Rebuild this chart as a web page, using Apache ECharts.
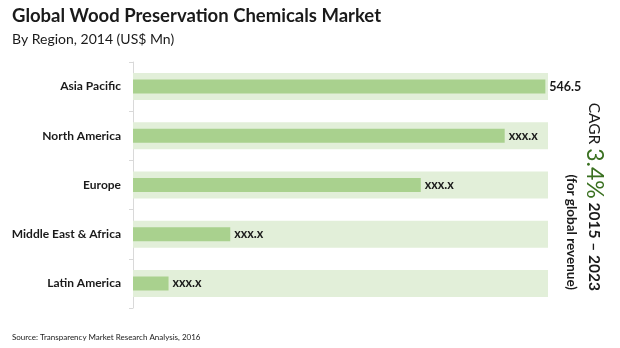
<!DOCTYPE html>
<html><head><meta charset="utf-8">
<script src="https://cdn.jsdelivr.net/npm/echarts@6/dist/echarts.min.js"></script>
<style>html,body{margin:0;padding:0;background:#fff}#c{width:620px;height:348px}</style>
</head><body><div id="c"></div>
<script>
var categories = ['Asia Pacific', 'North America', 'Europe', 'Middle East & Africa', 'Latin America'];
var values = [546.5, 492.6, 381.4, 128.9, 47.1];
var valueLabels = ['546.5', 'xxx.x', 'xxx.x', 'xxx.x', 'xxx.x'];
var bandValues = [550, 550, 550, 550, 550];
var axisMax = 550;

var FONT = 'Lato';
var chart = echarts.init(document.getElementById('c'), null, {renderer: 'canvas'});
chart.setOption({
  animation: false,
  textStyle: {fontFamily: FONT},
  grid: {left: 133, right: 72, top: 62, bottom: 40},
  xAxis: {type: 'value', min: 0, max: axisMax, show: false},
  yAxis: [{
    type: 'category', data: categories, inverse: true,
    axisLine: {show: true, lineStyle: {color: '#d9d9d9', width: 1}},
    axisTick: {show: true, length: 4, lineStyle: {color: '#d9d9d9'}},
    axisLabel: {fontFamily: FONT, fontWeight: 'bold', fontSize: 12, color: '#1a1a1a', margin: 12}
  }, {
    type: 'category', data: categories, inverse: true, show: false
  }],
  series: [{
    type: 'bar', yAxisIndex: 1, data: bandValues, barWidth: 27, silent: true,
    itemStyle: {color: '#e2efd9'}, z: 1
  }, {
    type: 'bar', yAxisIndex: 0, data: values, barWidth: 14, z: 2,
    itemStyle: {color: '#a9d18e'},
    label: {
      show: true, position: 'right', distance: 4,
      fontFamily: FONT, fontWeight: 'bold', fontSize: 12.5, color: '#1a1a1a',
      formatter: function (p) { return valueLabels[p.dataIndex]; }
    }
  }],
  graphic: [
    {type: 'text', left: 12, top: 7, style: {text: 'Global Wood Preservation Chemicals Market', font: 'bold 18.5px ' + FONT, fill: '#1a1a1a'}},
    {type: 'text', left: 12, top: 32, style: {text: 'By Region, 2014 (US$ Mn)', font: '14px ' + FONT, fill: '#1a1a1a'}},
    {type: 'text', x: 594, y: 291, rotation: -Math.PI / 2,
      style: {
        text: '{a|CAGR }{b|3.4%}{c| 2015 – 2023}',
        align: 'right', verticalAlign: 'middle',
        rich: {
          a: {fontFamily: FONT, fontSize: 15.5, fill: '#1a1a1a', color: '#1a1a1a'},
          b: {fontFamily: FONT, fontSize: 23, fill: '#3a7020', color: '#3a7020'},
          c: {fontFamily: FONT, fontWeight: 'bold', fontSize: 15.5, fill: '#1a1a1a', color: '#1a1a1a'}
        }
      }},
    {type: 'text', x: 571, y: 290, rotation: -Math.PI / 2,
      style: {text: '(for global revenue)', font: 'bold 13.5px ' + FONT, fill: '#1a1a1a', align: 'right', verticalAlign: 'middle'}},
    {type: 'text', left: 12, top: 333, style: {text: 'Source: Transparency Market Research Analysis, 2016', font: '8px ' + FONT, fill: '#1a1a1a'}}
  ]
});
</script></body></html>
